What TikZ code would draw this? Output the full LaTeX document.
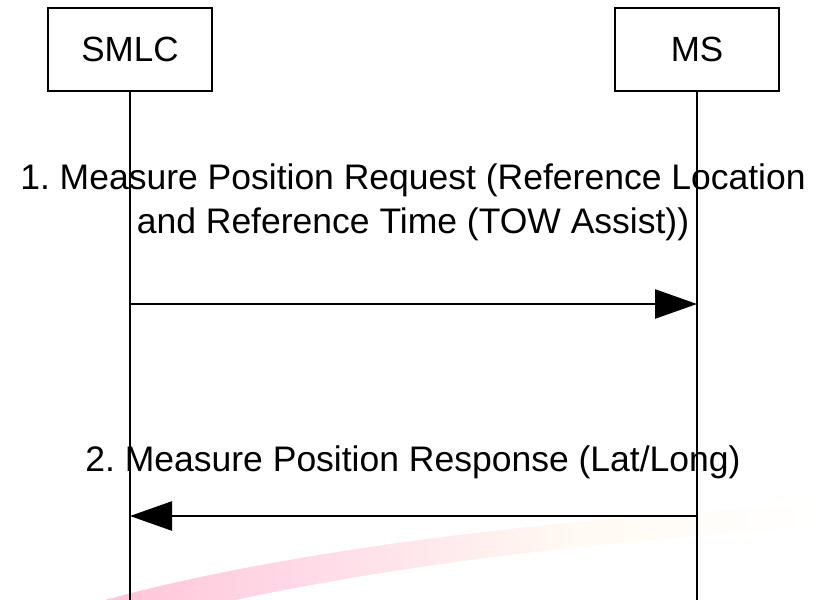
\documentclass[tikz,border=0pt]{standalone}
\usepackage{fontspec}
\setmainfont{Liberation Sans}
\usetikzlibrary{arrows.meta}
\frenchspacing
\definecolor{swoosh}{RGB}{255,196,216}
\definecolor{swooshend}{RGB}{255,250,242}
\pgfdeclarehorizontalshading{swooshfade}{100bp}{color(0bp)=(swoosh); color(25bp)=(swoosh);
	color(40bp)=(swoosh!60!white); color(58bp)=(swooshend); color(75bp)=(white); color(100bp)=(white)}
\begin{document}
\begin{tikzpicture}[x=1pt,y=-1pt,
		entity/.style={draw,line width=2.5pt,minimum width=164pt,minimum height=83pt,
			font=\fontsize{35}{42}\selectfont},
		life/.style={line width=2.5pt},
		msg/.style={line width=2.5pt,-{Triangle[length=42pt,width=29pt]}},
		msgtext/.style={font=\fontsize{35.5}{44}\selectfont,align=center,inner sep=0pt}]
	\useasboundingbox (0,0) rectangle (820,600);
	% background swoosh
	\shade[shading=swooshfade] (105,600) .. controls (250,560) and (500,520) .. (820,505)
		-- (820,528) .. controls (600,540) and (400,565) .. (235,600) -- cycle;
	% entities
	\node[entity] (smlc) at (130,49.5) {SMLC};
	\node[entity] (ms) at (697,49.5) {MS};
	\coordinate (smlc-end) at (130,600);
	\coordinate (ms-end) at (697,600);
	\draw[life] (smlc.south) -- (smlc-end);
	\draw[life] (ms.south) -- (ms-end);
	% messages
	\node[msgtext,anchor=base] (req) at (413,233) {1. Measure Position Request (Reference Location\\and Reference Time (TOW Assist))};
	\coordinate (req-from) at (130,304);
	\coordinate (req-to) at (697,304);
	\draw[msg] (req-from) -- (req-to);
	\node[msgtext,anchor=base] (resp) at (413,471) {2. Measure Position Response (Lat/Long)};
	\coordinate (resp-from) at (697,516);
	\coordinate (resp-to) at (130,516);
	\draw[msg] (resp-from) -- (resp-to);
\end{tikzpicture}
\end{document}
